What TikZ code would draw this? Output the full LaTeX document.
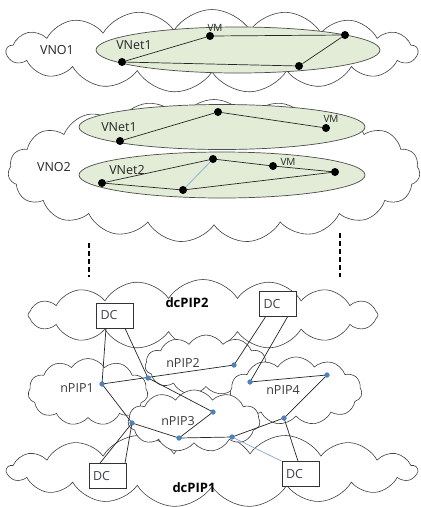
\documentclass[tikz,border=0pt]{standalone}
\usepackage{fontspec}
\setmainfont{Open Sans}
\usetikzlibrary{shapes.symbols,shapes.geometric,calc}
\definecolor{vnetfill}{HTML}{E2ECD6}
\definecolor{pipblue}{HTML}{4F81BD}
\definecolor{lightblue}{HTML}{8DB3E2}
\definecolor{txtgray}{HTML}{3A3A3A}
\definecolor{dctxt}{HTML}{3C4150}
\begin{document}
\begin{tikzpicture}[x=1pt,y=-1pt,
  cloudshape/.style={cloud, cloud puffs=#1, cloud puff arc=115, cloud ignores aspect,
    draw=black!75, fill=white, line width=0.6pt, inner sep=0pt},
  vnet/.style={ellipse, draw=black!70, fill=vnetfill, line width=0.7pt, inner sep=0pt},
  vmdot/.style={circle, fill=black, inner sep=0pt, minimum size=8pt},
  pipdot/.style={circle, fill=pipblue, inner sep=0pt, minimum size=5pt},
  link/.style={draw=black!85, line width=0.7pt},
  bluelink/.style={draw=lightblue, line width=0.8pt},
  lbl/.style={inner sep=0pt, font=\fontsize{12.5}{14}\selectfont, text=black!85},
  small/.style={inner sep=0pt, font=\fontsize{10}{12}\selectfont, text=black!85},
  piplbl/.style={inner sep=0pt, font=\fontsize{12.5}{14}\selectfont, text=txtgray},
  boldlbl/.style={inner sep=0pt, font=\fontsize{13}{15}\selectfont\bfseries, text=black},
  dcbox/.style={draw=black!80, line width=0.7pt, fill=white, text width=29pt, align=left,
    inner xsep=4pt, inner ysep=0pt, minimum height=25pt, font=\fontsize{12.5}{14}\selectfont, text=dctxt},
  vdash/.style={line width=2.8pt, dash pattern=on 5pt off 3pt}
]
\useasboundingbox (0,0) rectangle (421,507);

% ---------- upper clouds ----------
\node[cloudshape=17, minimum width=411pt, minimum height=83pt] (vno1) at (212,51) {};
\node[cloudshape=19, minimum width=412pt, minimum height=143pt] (vno2) at (214,171) {};

% VNO1 / VNet1
\node[vnet, minimum width=284pt, minimum height=46pt] (e1) at (238,50) {};
\node[vmdot] (a1) at (122,62) {};
\node[vmdot] (a2) at (210,36) {};
\node[vmdot] (a3) at (345,35) {};
\node[vmdot] (a4) at (299,66) {};
\draw[link] (a1) -- (a2) -- (a3) -- (a4) -- (a1);
\node[lbl] (tvno1) at (57,50) {VNO1};
\node[lbl] (tvnet1a) at (134,45) {VNet1};
\node[small] (tvma) at (215,28) {VM};

% VNO2 / VNet1
\node[vnet, minimum width=286pt, minimum height=45pt] (e2) at (222,127) {};
\node[vmdot] (b1) at (120,141) {};
\node[vmdot] (b2) at (218,112) {};
\node[vmdot] (b3) at (326,128) {};
\draw[link] (b1) -- (b2) -- (b3);
\node[lbl] (tvnet1b) at (119,127) {VNet1};
\node[small] (tvmb) at (331,119) {VM};

% VNO2 / VNet2
\node[vnet, minimum width=286pt, minimum height=46pt] (e3) at (222,175) {};
\node[vmdot] (c1) at (102,183) {};
\node[vmdot] (c2) at (213,159) {};
\node[vmdot] (c3) at (273,166) {};
\node[vmdot] (c4) at (335,172) {};
\node[vmdot] (c5) at (183,190) {};
\draw[link] (c1) -- (c2) -- (c3) -- (c4) -- (c5) -- (c1);
\draw[bluelink] (c2) -- (c5);
\node[lbl] (tvnet2) at (127,170) {VNet2};
\node[small] (tvmc) at (288,162) {VM};
\node[lbl] (tvno2) at (54,167) {VNO2};

% dashed continuation marks
\coordinate (dl1) at (89,243);
\coordinate (dl2) at (89,277);
\coordinate (dr1) at (340,233);
\coordinate (dr2) at (340,277);
\draw[vdash] (dl1) -- (dl2);
\draw[vdash] (dr1) -- (dr2);

% ---------- lower clouds ----------
\node[cloudshape=16, minimum width=350pt, minimum height=71pt] (dcpip2) at (203,315) {};
\node[cloudshape=17, minimum width=410pt, minimum height=74pt] (dcpip1) at (212,470) {};
\node[cloudshape=11, minimum width=120pt, minimum height=67pt] (npip1) at (88,392) {};
\node[cloudshape=11, minimum width=122pt, minimum height=60pt] (npip2) at (206,365) {};
\node[cloudshape=11, minimum width=132pt, minimum height=68pt] (npip4) at (296,391) {};
\node[cloudshape=11, minimum width=132pt, minimum height=62pt] (npip3) at (194,421) {};

\node[boldlbl] (tdc2) at (187,303) {dcPIP2};
\node[boldlbl] (tdc1) at (194,488) {dcPIP1};
\node[piplbl] (tn1) at (77,388) {nPIP1};
\node[piplbl] (tn2) at (183,363) {nPIP2};
\node[piplbl] (tn3) at (178,421) {nPIP3};
\node[piplbl] (tn4) at (283,390) {nPIP4};

% DC boxes
\node[dcbox] (dc1) at (115,315.5) {DC};
\node[dcbox] (dc2) at (278,304) {DC};
\node[dcbox] (dc3) at (107.5,476) {DC};
\node[dcbox] (dc4) at (300.5,474) {DC};

% physical nodes
\node[pipdot] (pA) at (102,384) {};
\node[pipdot] (pB) at (148,378) {};
\node[pipdot] (pC) at (234,365) {};
\node[pipdot] (pD) at (250,382) {};
\node[pipdot] (pE) at (327,375) {};
\node[pipdot] (pF) at (213,412) {};
\node[pipdot] (pG) at (132,423) {};
\node[pipdot] (pH) at (179,438) {};
\node[pipdot] (pI) at (232,437) {};
\node[pipdot] (pJ) at (284,418) {};

% links
\draw[link] ([xshift=-9pt]dc1.south) -- (pA.center);
\draw[link] ([xshift=10pt]dc1.south) -- (pB.center);
\draw[link] (pA.center) -- (pC.center);
\draw[link] (pB.center) -- (pF.center);
\draw[link] (pA.center) -- (pG.center) -- (pH.center) -- (pI.center) -- (pJ.center);
\draw[link] (pH.center) -- (pF.center);
\draw[link] ([xshift=-7.5pt]dc3.north) -- (pG.center);
\draw[link] ([xshift=17.5pt]dc3.north) -- (pG.center);
\draw[link] ([xshift=-12.5pt]dc2.south) -- (pC.center);
\draw[link] ([xshift=9.5pt]dc2.south) -- (pD.center);
\draw[link] (pD.center) -- (pE.center) -- (pJ.center);
\draw[link] (pJ.center) -- ([xshift=-2.5pt]dc4.north);
\draw[link, draw=pipblue!70] (pI.center) -- (dc4.north west);

% redraw dots on top
\foreach \p in {pA,pB,pC,pD,pE,pF,pG,pH,pI,pJ} \fill[pipblue] (\p) circle (2.5pt);
\end{tikzpicture}
\end{document}
